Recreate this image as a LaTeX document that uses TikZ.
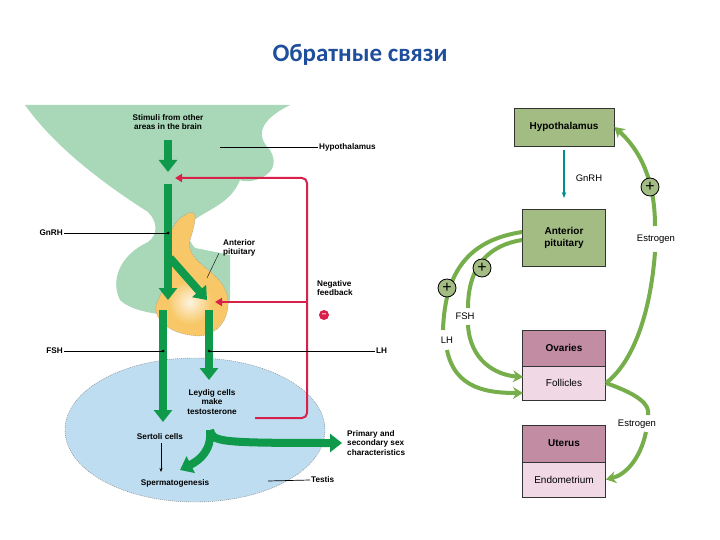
\documentclass[tikz,border=0pt]{standalone}
\usepackage{fontspec}
\setmainfont{Liberation Sans}
\newfontfamily\titlefont{Carlito}
\usetikzlibrary{arrows.meta}
\definecolor{garr}{HTML}{0E9A4A}
\definecolor{rarr}{HTML}{D8204A}
\definecolor{hyp}{HTML}{A8D8B8}
\definecolor{orng}{HTML}{F8C868}
\definecolor{tst}{HTML}{BFDDF0}
\definecolor{lg}{HTML}{76AE4C}
\definecolor{bgreen}{HTML}{A3BC84}
\definecolor{bmauve}{HTML}{C28CA3}
\definecolor{bpink}{HTML}{F0D8E4}
\definecolor{ttl}{HTML}{1F4E9C}
\begin{document}
\begin{tikzpicture}[x=1pt,y=-1pt,
 lbl/.style={font=\bfseries\fontsize{8.2}{9.5}\selectfont,align=center,inner sep=1pt},
 gar/.style={garr,line width=8pt,-{Triangle[length=12pt,width=18pt]}},
 rar/.style={rarr,line width=2pt,-{Triangle[length=7pt,width=8pt]},rounded corners=5pt},
 lead/.style={black,line width=0.7pt},
 box/.style={draw=black!80,line width=0.8pt,minimum width=83pt,align=center,font=\fontsize{10}{12}\selectfont,inner sep=1pt},
 bb/.style={font=\bfseries\fontsize{10}{12}\selectfont},
 la/.style={lg,line width=4pt,-{Stealth[length=10pt,width=12pt]}},
 plus/.style={circle,draw=black,line width=0.8pt,fill=bgreen,minimum size=18pt,inner sep=0pt,font=\fontsize{16}{16}\selectfont},
 rl/.style={font=\fontsize{9.5}{11}\selectfont,inner sep=1pt}]
\useasboundingbox (0,0) rectangle (720,540);
\fill[white] (0,0) rectangle (720,540);
\node[font=\titlefont\bfseries\fontsize{25}{28}\selectfont,text=ttl] (title) at (360,55) {Обратные связи};
% ---- left panel shapes
\fill[tst,draw=black!50,dash pattern=on 1pt off 1pt] (195,430) ellipse (130 and 72);
\fill[hyp] (25,105) -- (290,105) .. controls (260,120) and (255,135) .. (270,150)
 .. controls (285,175) and (250,185) .. (240,180) .. controls (230,205) and (205,210) .. (192,222)
 .. controls (185,232) and (188,240) .. (195,248)
 -- (230,255) -- (230,300) .. controls (215,320) and (140,320) .. (120,300)
 .. controls (110,280) and (120,255) .. (148,242) .. controls (158,235) and (158,222) .. (148,212)
 .. controls (90,175) and (50,140) .. cycle;
\fill[orng,draw=black!40,dash pattern=on 1pt off 1pt] (185,215) .. controls (200,205) and (195,225) .. (190,240)
 .. controls (185,265) and (225,270) .. (228,300) .. controls (230,325) and (210,340) .. (190,335)
 .. controls (165,332) and (150,315) .. (158,300) .. controls (165,285) and (175,270) .. (170,255)
 .. controls (165,235) and (175,220) .. cycle;
\shade[inner color=white,outer color=orng,opacity=0.8] (190,302) circle (22);
% ---- green arrows
\coordinate (s1) at (168,140); \coordinate (s2) at (168,172);
\draw[gar] (s1) -- (s2);
\coordinate (m1) at (168,184); \coordinate (m2) at (168,300);
\draw[gar] (m1) -- (m2);
\coordinate (d1) at (170,258); \coordinate (d2) at (207,300);
\draw[gar] (d1) -- (d2);
\coordinate (f1) at (163,310); \coordinate (f2) at (163,422);
\draw[gar] (f1) -- (f2);
\coordinate (l1) at (209,310); \coordinate (l2) at (209,380);
\draw[gar] (l1) -- (l2);
\coordinate (b0) at (210,430); \coordinate (b1) at (180,470); \coordinate (b2) at (342,443);
\draw[gar] (b0) .. controls (212,450) and (200,460) .. (b1);
\draw[gar] (b0) .. controls (212,442) and (220,443) .. (b2);
% ---- red feedback
\coordinate (r0) at (255,418); \coordinate (rt) at (175,178); \coordinate (rm) at (215,302);
\draw[rar] (r0) -- (307,418) -- (307,178) -- (rt);
\draw[rar] (307,302) -- (rm);
\node[circle,fill=rarr,minimum size=10pt,inner sep=0pt,text=white,font=\bfseries\fontsize{8}{8}\selectfont] (minus) at (324,315) {--};
% ---- labels
\node[lbl] (stim) at (168,122) {Stimuli from other\\areas in the brain};
\node[lbl,anchor=west] (hyl) at (318,147) {Hypothalamus};
\coordinate (hyp0) at (220,147); \draw[lead] (hyp0) -- (hyl.west);
\node[lbl,anchor=east] (gn) at (64,233) {GnRH};
\coordinate (gn0) at (168,233); \draw[lead] (gn.east) -- (gn0); \fill (gn0) circle (1.5);
\node[lbl,anchor=west,align=left] (ap) at (222,248) {Anterior\\pituitary};
\coordinate (ap0) at (207,278); \draw[lead,line width=0.4pt] (219,253) -- (ap0);
\node[lbl,anchor=west,align=left] (nf) at (316,288) {Negative\\feedback};
\node[lbl,anchor=east] (fsh) at (64,351) {FSH};
\coordinate (fsh0) at (163,351); \draw[lead] (fsh.east) -- (fsh0); \fill (fsh0) circle (1.5);
\node[lbl,anchor=west] (lh) at (375,351) {LH};
\coordinate (lh0) at (209,351); \draw[lead] (lh0) -- (lh.west); \fill (lh0) circle (1.5);
\node[lbl] (ley) at (212,402) {Leydig cells\\make\\testosterone};
\node[lbl] (ser) at (160,437) {Sertoli cells};
\node[lbl] (sp) at (175,483) {Spermatogenesis};
\draw[lead,-{Stealth[length=4pt]}] (161,443) -- (161,472);
\node[lbl,anchor=west] (ts) at (310,480) {Testis};
\coordinate (ts0) at (268,481); \draw[lead] (ts0) -- (ts.west);
\node[lbl,anchor=west,align=left] (psc) at (346,443) {Primary and\\secondary sex\\characteristics};
% ---- right panel
\node[box,fill=bgreen,minimum width=100pt,minimum height=38pt,bb] (H) at (564,127) {Hypothalamus};
\node[box,fill=bgreen,minimum height=57pt,bb] (A) at (564,238) {Anterior\\pituitary};
\node[box,fill=bmauve,minimum height=36pt,bb] (O) at (564,348) {Ovaries};
\node[box,fill=bpink,minimum height=34pt] (F) at (564,383) {Follicles};
\node[box,fill=bmauve,minimum height=37pt,bb] (U) at (564,443.5) {Uterus};
\node[box,fill=bpink,minimum height=35pt] (E) at (564,479.5) {Endometrium};
\coordinate (g0) at (564,150); \coordinate (g1) at (564,198);
\draw[teal!60!cyan!80!black,line width=1.5pt,-{Stealth[length=6pt]}] (g0) -- (g1);
\node[rl] (gnr) at (589,178) {GnRH};
% estrogen to hypothalamus
\node[rl] (es1) at (656,239) {Estrogen};
\draw[lg,line width=4pt] (F.east) .. controls (630,365) and (650,320) .. (655,252);
\draw[la] (655,226) .. controls (655,180) and (640,150) .. (H.east);
\node[plus] (p1) at (650,187) {+};
\draw[lg,line width=4pt] (F.east) .. controls (640,395) and (650,405) .. (648,415);
\draw[la] (646,432) .. controls (640,460) and (625,475) .. (E.east);
\node[rl] (es2) at (637,424) {Estrogen};
% LH and FSH
\draw[lg,line width=4pt] (A.west) ++(0,-6) .. controls (470,240) and (445,270) .. (443,330);
\draw[la] (447,350) .. controls (455,390) and (490,393) .. (523,393);
\draw[lg,line width=4pt] (A.west) ++(0,2) .. controls (490,245) and (468,265) .. (468,308);
\draw[la] (468,325) .. controls (470,360) and (495,375) .. (523,377);
\node[plus] (p2) at (482,268) {+};
\node[plus] (p3) at (447,288) {+};
\node[rl] (fs) at (465,316) {FSH};
\node[rl] (lhr) at (447,340) {LH};
\end{tikzpicture}
\end{document}
